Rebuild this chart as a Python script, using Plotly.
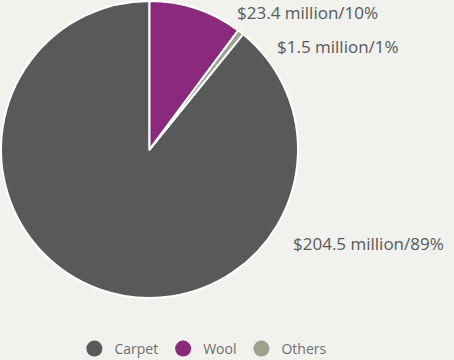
import plotly.graph_objects as go

# Revenue split by product line
categories = ["Carpet", "Wool", "Others"]
values_musd = [204.5, 23.4, 1.5]
colors = ["#58595b", "#8b2a7c", "#a0a08f"]

total = sum(values_musd)
pcts = [v / total * 100 for v in values_musd]

# Start Carpet so that it ends exactly at 12 o'clock, with Wool and Others after it
rotation = 360 * (total - values_musd[0]) / total

font_family = "Open Sans, Lato, sans-serif"

fig = go.Figure()
fig.add_trace(go.Pie(
    labels=categories,
    values=values_musd,
    sort=False,
    direction="clockwise",
    rotation=rotation,
    marker=dict(colors=colors, line=dict(color="#ffffff", width=2)),
    textinfo="none",
    hoverinfo="label+value+percent",
    showlegend=False,
    domain=dict(x=[1 / 454, 298 / 454], y=[62 / 360, 359 / 360]),
))

# Legend entries with round markers
for name, col in zip(categories, colors):
    fig.add_trace(go.Scatter(
        x=[None], y=[None], mode="markers", name=name,
        marker=dict(symbol="circle", size=18, color=col),
        showlegend=True,
    ))

# Outside value labels
label_pos = {
    "Carpet": (291, 243),
    "Wool": (235, 13),
    "Others": (275, 46),
}
for name, v, p in zip(categories, values_musd, pcts):
    px, py = label_pos[name]
    fig.add_annotation(
        x=px / 454, y=1 - py / 360, xref="paper", yref="paper",
        xanchor="left", yanchor="middle", showarrow=False,
        text=f"${v:.1f} million/{p:.0f}%",
        font=dict(family=font_family, size=17, color="#58595b"),
    )

fig.update_layout(
    width=454, height=360,
    margin=dict(l=0, r=0, t=0, b=0, autoexpand=False),
    paper_bgcolor="#f1f1ed",
    plot_bgcolor="#f1f1ed",
    xaxis=dict(visible=False),
    yaxis=dict(visible=False),
    legend=dict(
        orientation="h", x=0.448, xanchor="center", y=1 - 349 / 360, yanchor="middle",
        font=dict(family=font_family, size=14, color="#6d6e71"),
        itemwidth=30, bgcolor="rgba(0,0,0,0)",
    ),
)

fig.write_html("out.html")
